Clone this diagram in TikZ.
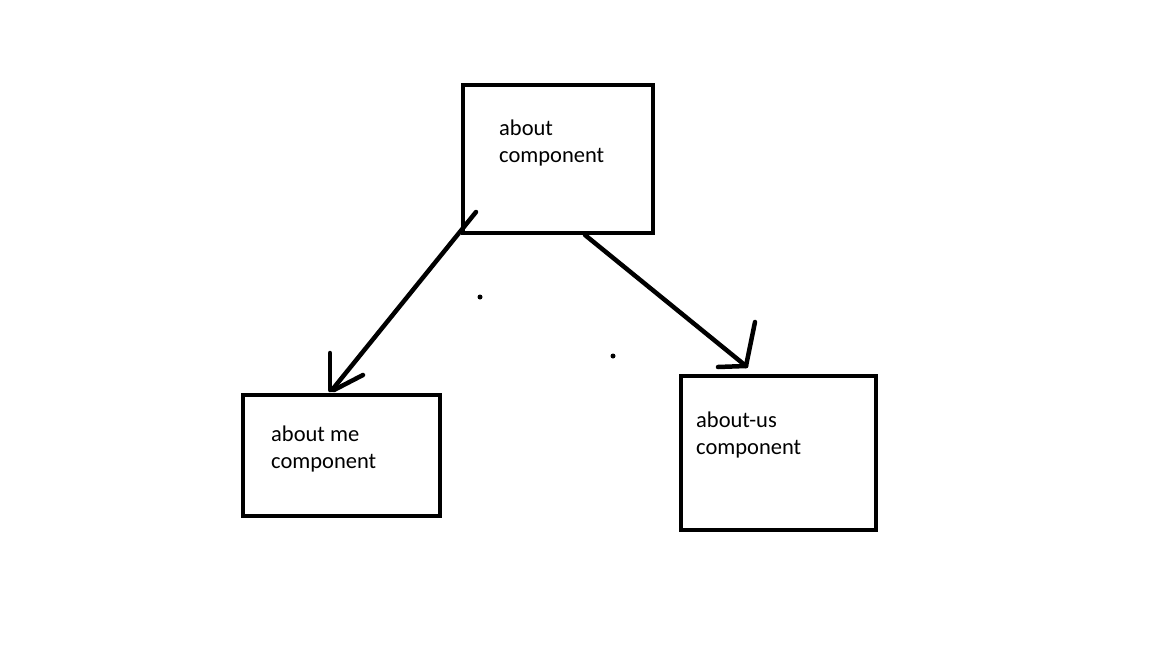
\documentclass[tikz,border=0pt]{standalone}
\usepackage{fontspec}
\setmainfont{Carlito}
\usepackage{xcolor}
\usepackage{tikz}
\usetikzlibrary{calc}
\definecolor{bg}{HTML}{FFFFFF}
\definecolor{ink}{HTML}{000000}
\tikzset{
  box/.style={draw=ink, line width=4.5pt, inner sep=0pt, outer sep=0pt},
  lab/.style={text=ink, font=\fontsize{22.5}{27}\selectfont, align=left, anchor=base west, inner sep=0pt},
  pen/.style={draw=ink, line width=4.5pt, line cap=round, line join=round},
  dot/.style={circle, fill=ink, inner sep=0pt, minimum size=5pt},
}
\begin{document}
\begin{tikzpicture}[x=1pt,y=-1pt]
  \useasboundingbox[fill=bg] (0,0) rectangle (1152,648);
  \node[box, minimum width=190pt, minimum height=148pt] (about) at (558,159) {};
  \node[box, minimum width=197pt, minimum height=121pt] (me) at (341.5,455.5) {};
  \node[box, minimum width=195pt, minimum height=154pt] (us) at (778.5,453) {};
  \node[lab] (aboutlab) at ($(about.north west)+(36,77)$) {about\\component};
  \node[lab] (melab) at ($(me.north west)+(28,73)$) {about me\\component};
  \node[lab] (uslab) at ($(us.north west)+(15,78)$) {about-us\\component};
  % hand drawn arrows
  \coordinate (mefrom) at ($(about.south west)+(13,-21)$);
  \coordinate (meto) at ($(me.north west)+(89,-5)$);
  \coordinate (usfrom) at ($(about.south)+(27,2)$);
  \coordinate (usto) at ($(us.north west)+(65,-10)$);
  \draw[pen] (mefrom) -- (meto);
  \draw[pen] ($(meto)+(-2,-37)$) -- ($(meto)+(-2,0)$);
  \draw[pen] ($(meto)+(31,-15)$) -- ($(meto)+(2,0)$);
  \draw[pen] (usfrom) -- (usto);
  \draw[pen] ($(usto)+(9,-44)$) -- (usto);
  \draw[pen] ($(usto)+(-28,1)$) -- (usto);
  \node[dot] (dota) at (480,297) {};
  \node[dot] (dotb) at (613,356) {};
\end{tikzpicture}
\end{document}
